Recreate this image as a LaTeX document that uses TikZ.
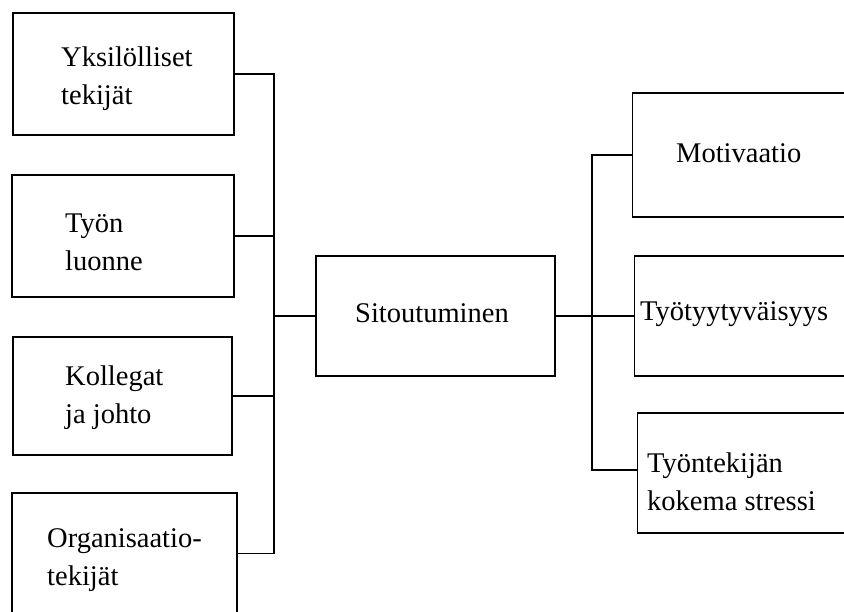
\documentclass[tikz,border=0pt]{standalone}
\usepackage{fontspec}
\setmainfont{Liberation Serif}
\usetikzlibrary{positioning}
\tikzset{
  box/.style={draw, line width=1.3pt, rectangle, inner sep=0pt},
  lbl/.style={anchor=west, align=left, inner sep=0pt, font=\fontsize{28.5}{38}\selectfont},
  link/.style={line width=1.3pt}
}
\begin{document}
\begin{tikzpicture}[x=1pt, y=-1pt]
  \clip (0,0) rectangle (844,612);
  % left column of factors
  \node[box, minimum width=221, minimum height=122] (yks) at (123.5,74) {};
  \node[box, minimum width=222, minimum height=122] (tyon) at (123,236) {};
  \node[box, minimum width=219, minimum height=118] (koll) at (122.5,396) {};
  \node[box, minimum width=225, minimum height=121] (org) at (124.5,553.5) {};
  \node[lbl] (yks-t) at (61,79) {Yksilölliset\\tekijät};
  \node[lbl] (tyon-t) at (65,242) {Työn\\luonne};
  \node[lbl] (koll-t) at (65,398) {Kollegat\\ja johto};
  \node[lbl] (org-t) at (47,560) {Organisaatio-\\tekijät};
  % centre
  \node[box, minimum width=239, minimum height=120] (sit) at (435.5,316) {};
  \node[lbl] (sit-t) at (355,313) {Sitoutuminen};
  % right column, boxes run past the edge
  \node[box, minimum width=300, minimum height=124, anchor=west] (mot) at (632,155) {};
  \node[box, minimum width=300, minimum height=120, anchor=west] (tyt) at (634,316) {};
  \node[box, minimum width=300, minimum height=120, anchor=west] (str) at (637,473) {};
  \node[lbl] (mot-t) at (676,153) {Motivaatio};
  \node[lbl] (tyt-t) at (640,314) {Työtyytyväisyys};
  \node[lbl] (str-t) at (647,482) {Työntekijän\\kokema stressi};
  % brackets
  \coordinate (bl) at (274,316);
  \coordinate (br) at (592,316);
  \draw[link] (yks.east) -- (yks.east -| bl) -- (org.east -| bl) -- (org.east);
  \draw[link] (tyon.east) -- (tyon.east -| bl);
  \draw[link] (koll.east) -- (koll.east -| bl);
  \draw[link] (bl) -- (sit.west);
  \draw[link] (sit.east) -- (tyt.west);
  \draw[link] (mot.west) -- (br |- mot.west) -- ([yshift=3]br |- str.west) -- ([yshift=3]str.west);
\end{tikzpicture}
\end{document}
